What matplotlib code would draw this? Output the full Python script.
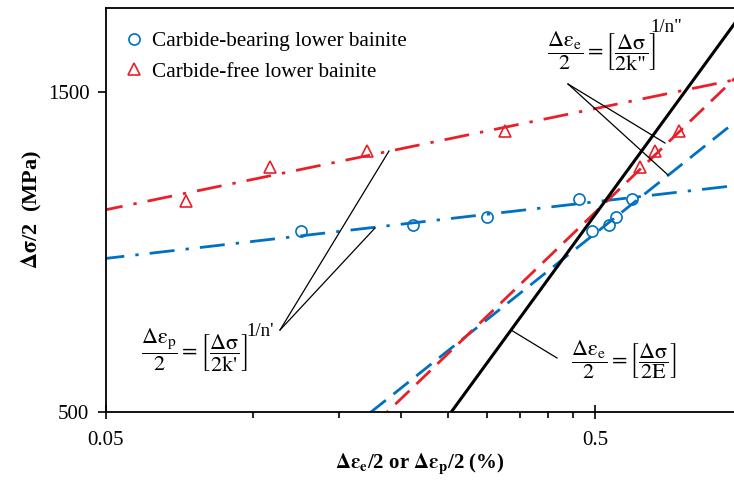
import numpy as np
import matplotlib
matplotlib.use("Agg")
import matplotlib.pyplot as plt
from matplotlib.ticker import FixedLocator, NullFormatter

plt.rcParams['font.family'] = ['Liberation Serif', 'DejaVu Serif']
plt.rcParams['mathtext.fontset'] = 'stix'

# measured points: half strain amplitude (%) vs half stress amplitude (MPa)
cb_stress = [929, 951, 977, 1040]
cb_ep = [0.125, 0.212, 0.300, 0.464]          # plastic strain
cb_ee = [0.493, 0.532, 0.550, 0.595]          # elastic strain
cf_stress = [1033, 1160, 1226, 1313]
cf_ep = [0.073, 0.108, 0.171, 0.327]
cf_ee_stress = [1160, 1226, 1313]
cf_ee = [0.618, 0.663, 0.740]

# fitted power laws: stress = s0 * (x / x0) ** n
cb_plastic_fit = (0.05, 847, 0.0844)
cf_plastic_fit = (0.05, 1001, 0.1507)
cb_elastic_fit = (0.174, 500, 0.581)
cf_elastic_fit = (0.1878, 500, 0.70)
E_mod = 197000  # MPa

blue = '#0070C0'
red = '#E8202A'

fig = plt.figure(figsize=(7.34, 4.84), dpi=100)
ax = fig.add_axes([106/734, 1-412/484, 1-106/734, 404/484])
ax.set_xscale('log')
ax.set_yscale('log')

xx = np.logspace(np.log10(0.03), 0, 200)

def power(fit, x):
    x0, s0, n = fit
    return s0 * (x / x0) ** n

dashdot = (0, (9, 4, 1.2, 4))
dashed = (0, (7, 3.5))
ax.plot(xx, power(cb_plastic_fit, xx), color=blue, lw=2, linestyle=dashdot)
ax.plot(xx, power(cf_plastic_fit, xx), color=red, lw=2, linestyle=dashdot)
ax.plot(xx, power(cb_elastic_fit, xx), color=blue, lw=2, linestyle=dashed)
ax.plot(xx, power(cf_elastic_fit, xx), color=red, lw=2, linestyle=dashed)
ss = np.array([400, 2200])
ax.plot(ss / E_mod * 100, ss, color='black', lw=2.2)

ax.plot(cb_ep + cb_ee, cb_stress + cb_stress, 'o', mfc='none', mec=blue,
        ms=8, mew=1.2, label='Carbide-bearing lower bainite')
ax.plot(cf_ep + cf_ee, cf_stress + cf_ee_stress, '^', mfc='none', mec=red,
        ms=8, mew=1.2, label='Carbide-free lower bainite')

ax.set_xlim(0.05, 0.96)
ax.set_ylim(500, 2000)

ax.xaxis.set_major_locator(FixedLocator([0.05, 0.5]))
ax.xaxis.set_minor_locator(FixedLocator([0.1, 0.15, 0.2, 0.25, 0.3, 0.35, 0.4, 0.45]))
ax.xaxis.set_major_formatter(plt.FixedFormatter(['0.05', '0.5']))
ax.xaxis.set_minor_formatter(NullFormatter())
ax.yaxis.set_major_locator(FixedLocator([500, 1500]))
ax.yaxis.set_major_formatter(plt.FixedFormatter(['500', '1500']))
ax.yaxis.set_minor_locator(FixedLocator([]))
ax.tick_params(axis='x', which='major', direction='inout', length=10, width=1.2, labelsize=15, pad=9)
ax.tick_params(axis='x', which='minor', direction='out', length=4, width=1.2)
ax.tick_params(axis='y', which='major', direction='out', length=6, width=1.2, labelsize=15, pad=6)
for s in ['left', 'bottom', 'top']:
    ax.spines[s].set_linewidth(1.3)
ax.spines['right'].set_visible(False)

ax.set_ylabel(r'$\mathbf{\Delta\sigma}$/2  (MPa)', fontsize=16, fontweight='bold', labelpad=3)
ax.set_xlabel(r'$\mathbf{\Delta\varepsilon_{e}}$/2 or $\mathbf{\Delta\varepsilon_{p}}$/2 (%)',
              fontsize=15, fontweight='bold', labelpad=1)

ax.legend(loc='upper left', bbox_to_anchor=(-0.006, 0.99), frameon=False, fontsize=15.3,
          handletextpad=0.25, labelspacing=0.5, handlelength=1.2)

def px(x, y):
    return fig.transFigure.inverted().transform((x, 484 - y))

fs = 16
fig.text(*px(141, 350), r"$\dfrac{\mathrm{Δε_p}}{2}=\left[\dfrac{\mathrm{Δσ}}{\mathrm{2}\text{k'}}\right]$",
         fontsize=fs, ha='left', va='center')
fig.text(*px(246, 332), "1/n'", fontsize=13.5, ha='left', va='center')
fig.text(*px(547, 51), r"$\dfrac{\mathrm{Δε_e}}{2}=\left[\dfrac{\mathrm{Δσ}}{\mathrm{2}\text{k\"}}\right]$",
         fontsize=fs, ha='left', va='center')
fig.text(*px(650, 28), "1/n\"", fontsize=13.5, ha='left', va='center')
fig.text(*px(571, 360), r"$\dfrac{\mathrm{Δε_e}}{2}=\left[\dfrac{\mathrm{Δσ}}{\mathrm{2E}}\right]$",
         fontsize=fs, ha='left', va='center')

# leader lines (figure pixel coords)
leaders = [((280, 330), (389, 151)), ((280, 330), (375, 228)),
           ((568, 84), (665, 143)), ((568, 84), (668, 175)),
           ((511, 330), (557, 358))]
for (x0, y0), (x1, y1) in leaders:
    p0, p1 = px(x0, y0), px(x1, y1)
    fig.add_artist(plt.Line2D([p0[0], p1[0]], [p0[1], p1[1]], color='black', lw=0.9,
                              transform=fig.transFigure))

fig.savefig('out.png', dpi=100)
